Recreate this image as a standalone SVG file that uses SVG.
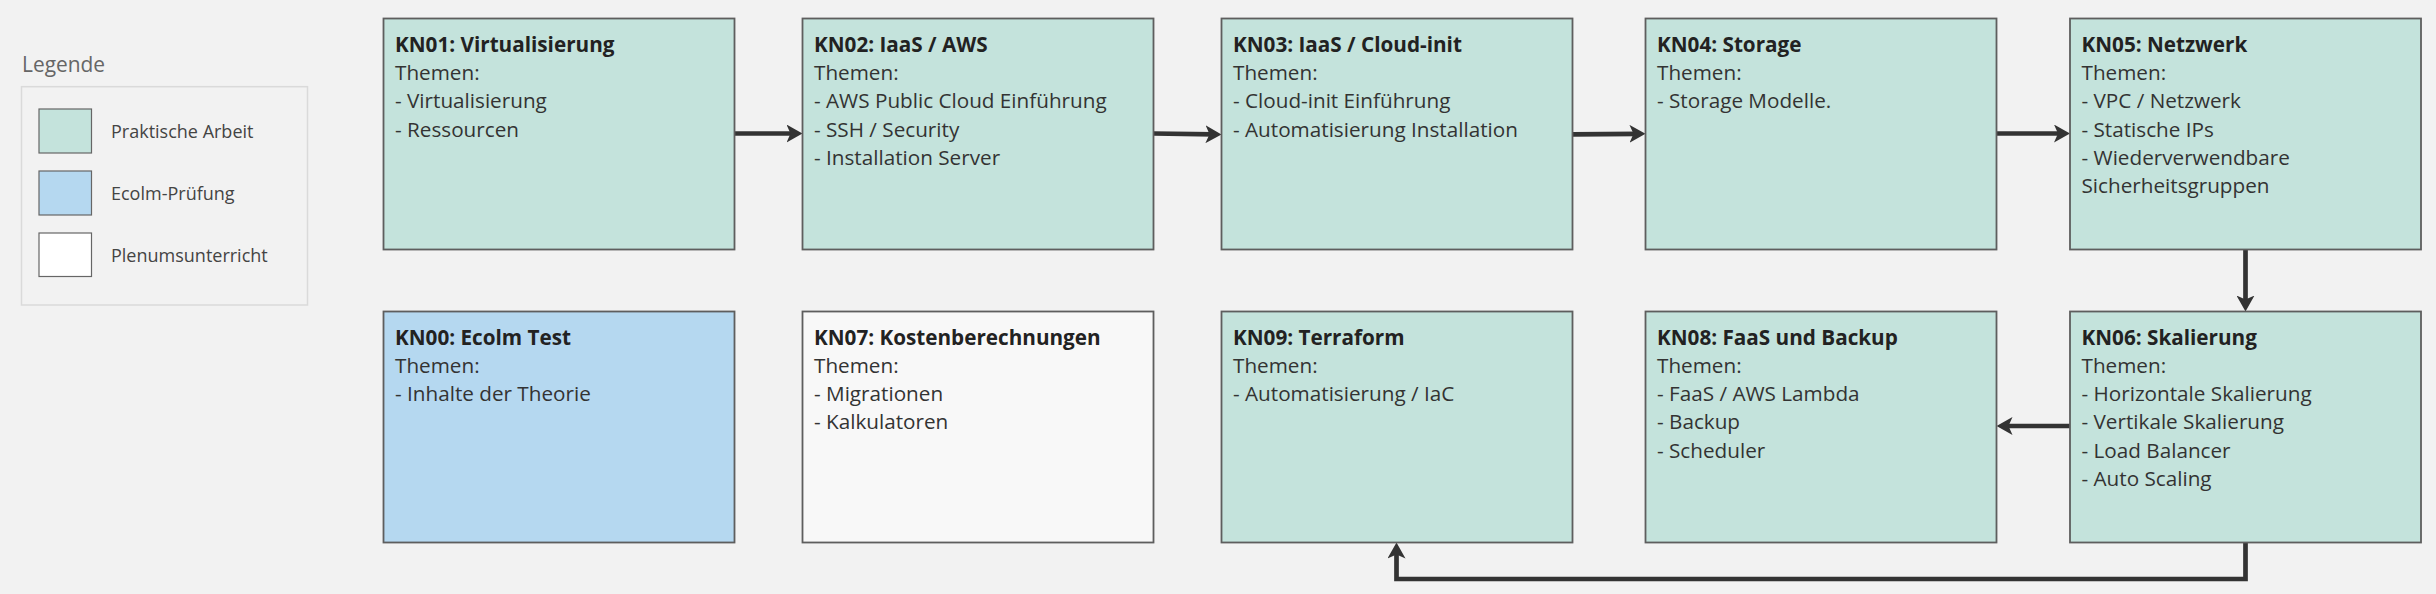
<svg xmlns="http://www.w3.org/2000/svg" width="2436" height="594" viewBox="0 0 2436 594">
<style>
text{font-family:"Open Sans","Noto Sans","DejaVu Sans",sans-serif}
.box{stroke:#5e5e5e;stroke-width:1.8}
.g{fill:#c4e3dc}
.b{fill:#b5d8f0}
.w{fill:#f8f8f8}
.t{font-size:20.7px;font-weight:700;fill:#222}
.l{font-size:20.7px;fill:#333}
.leg{font-size:18px;fill:#444}
.con{fill:none;stroke:#333;stroke-width:4.7;stroke-linejoin:miter}
</style>
<defs>
<marker id="ah" viewBox="0 0 16 18" refX="8" refY="9" markerWidth="16" markerHeight="18" markerUnits="userSpaceOnUse" orient="auto">
<path d="M0,0 L16,9 L0,18 L4,9 Z" fill="#333"/>
</marker>
</defs>
<rect width="2436" height="594" fill="#f2f2f2"/>

<g id="legend">
<text x="22" y="71.7" style="font-size:20.9px;fill:#666">Legende</text>
<rect x="21.5" y="86.7" width="286" height="218.3" fill="#f2f2f2" stroke="#dadada" stroke-width="1.5"/>
<rect x="39" y="109" width="52.5" height="44" class="g" stroke="#666" stroke-width="1.2"/>
<text x="111" y="137.5" class="leg">Praktische Arbeit</text>
<rect x="39" y="171" width="52.5" height="44" class="b" stroke="#666" stroke-width="1.2"/>
<text x="111" y="199.5" class="leg">Ecolm-Prüfung</text>
<rect x="39" y="233" width="52.5" height="43.5" fill="#ffffff" stroke="#666" stroke-width="1.2"/>
<text x="111" y="261.5" class="leg">Plenumsunterricht</text>
</g>

<g id="connectors">
<path class="con" d="M734.5,133.5 L794.5,133.5" marker-end="url(#ah)"/>
<path class="con" d="M1153.5,133.5 L1213.5,134.3" marker-end="url(#ah)"/>
<path class="con" d="M1572.5,134.3 L1637.5,133.8" marker-end="url(#ah)"/>
<path class="con" d="M1996.5,133.5 L2062,133.5" marker-end="url(#ah)"/>
<path class="con" d="M2245.5,249.5 L2245.5,303.5" marker-end="url(#ah)"/>
<path class="con" d="M2070,426 L2004.5,426" marker-end="url(#ah)"/>
<path class="con" d="M2245.5,542.5 L2245.5,579 L1396.5,579 L1396.5,550.5" marker-end="url(#ah)"/>
</g>

<g id="KN01">
<rect class="box g" x="383.5" y="18.5" width="351" height="231"/>
<text x="395" y="51.7" class="t">KN01: Virtualisierung</text>
<text x="395" y="80" class="l">Themen:</text>
<text x="395" y="108.3" class="l">- Virtualisierung</text>
<text x="395" y="136.7" class="l">- Ressourcen</text>
</g>

<g id="KN02">
<rect class="box g" x="802.5" y="18.5" width="351" height="231"/>
<text x="814" y="51.7" class="t">KN02: IaaS / AWS</text>
<text x="814" y="80" class="l">Themen:</text>
<text x="814" y="108.3" class="l">- AWS Public Cloud Einführung</text>
<text x="814" y="136.7" class="l">- SSH / Security</text>
<text x="814" y="165" class="l">- Installation Server</text>
</g>

<g id="KN03">
<rect class="box g" x="1221.5" y="18.5" width="351" height="231"/>
<text x="1233" y="51.7" class="t">KN03: IaaS / Cloud-init</text>
<text x="1233" y="80" class="l">Themen:</text>
<text x="1233" y="108.3" class="l">- Cloud-init Einführung</text>
<text x="1233" y="136.7" class="l">- Automatisierung Installation</text>
</g>

<g id="KN04">
<rect class="box g" x="1645.5" y="18.5" width="351" height="231"/>
<text x="1657" y="51.7" class="t">KN04: Storage</text>
<text x="1657" y="80" class="l">Themen:</text>
<text x="1657" y="108.3" class="l">- Storage Modelle.</text>
</g>

<g id="KN05">
<rect class="box g" x="2070" y="18.5" width="351" height="231"/>
<text x="2081.5" y="51.7" class="t">KN05: Netzwerk</text>
<text x="2081.5" y="80" class="l">Themen:</text>
<text x="2081.5" y="108.3" class="l">- VPC / Netzwerk</text>
<text x="2081.5" y="136.7" class="l">- Statische IPs</text>
<text x="2081.5" y="165" class="l">- Wiederverwendbare</text>
<text x="2081.5" y="193.3" class="l">Sicherheitsgruppen</text>
</g>

<g id="KN00">
<rect class="box b" x="383.5" y="311.5" width="351" height="231"/>
<text x="395" y="344.5" class="t">KN00: Ecolm Test</text>
<text x="395" y="372.8" class="l">Themen:</text>
<text x="395" y="401.1" class="l">- Inhalte der Theorie</text>
</g>

<g id="KN07">
<rect class="box w" x="802.5" y="311.5" width="351" height="231"/>
<text x="814" y="344.5" class="t">KN07: Kostenberechnungen</text>
<text x="814" y="372.8" class="l">Themen:</text>
<text x="814" y="401.1" class="l">- Migrationen</text>
<text x="814" y="429.4" class="l">- Kalkulatoren</text>
</g>

<g id="KN09">
<rect class="box g" x="1221.5" y="311.5" width="351" height="231"/>
<text x="1233" y="344.5" class="t">KN09: Terraform</text>
<text x="1233" y="372.8" class="l">Themen:</text>
<text x="1233" y="401.1" class="l">- Automatisierung / IaC</text>
</g>

<g id="KN08">
<rect class="box g" x="1645.5" y="311.5" width="351" height="231"/>
<text x="1657" y="344.5" class="t">KN08: FaaS und Backup</text>
<text x="1657" y="372.8" class="l">Themen:</text>
<text x="1657" y="401.1" class="l">- FaaS / AWS Lambda</text>
<text x="1657" y="429.4" class="l">- Backup</text>
<text x="1657" y="457.7" class="l">- Scheduler</text>
</g>

<g id="KN06">
<rect class="box g" x="2070" y="311.5" width="351" height="231"/>
<text x="2081.5" y="344.5" class="t">KN06: Skalierung</text>
<text x="2081.5" y="372.8" class="l">Themen:</text>
<text x="2081.5" y="401.1" class="l">- Horizontale Skalierung</text>
<text x="2081.5" y="429.4" class="l">- Vertikale Skalierung</text>
<text x="2081.5" y="457.7" class="l">- Load Balancer</text>
<text x="2081.5" y="486" class="l">- Auto Scaling</text>
</g>
</svg>
